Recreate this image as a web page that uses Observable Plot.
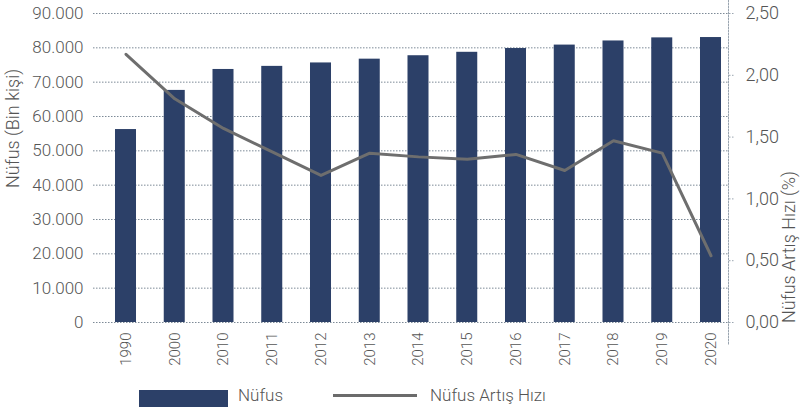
<!DOCTYPE html>
<html>
<head>
<meta charset="utf-8">
<script src="https://cdn.jsdelivr.net/npm/d3@7"></script>
<script src="https://cdn.jsdelivr.net/npm/@observablehq/plot@0.6"></script>
<style>
  body { margin: 0; background: #fff; }
  #chart svg { display: block; }
  .legend { position: relative; width: 810px; height: 37px; font-family: Roboto, sans-serif; font-size: 17px; color: #555; font-weight: 300; }
  .legend .sw { position: absolute; }
  .legend .lbl { position: absolute; top: 5px; line-height: 20px; }
</style>
</head>
<body>
<div id="chart"></div>
<div class="legend">
  <div class="sw" style="left:139px;top:10px;width:89px;height:17px;background:#2c4068"></div>
  <div class="lbl" style="left:238px">Nüfus</div>
  <div class="sw" style="left:333px;top:14px;width:84px;height:3px;background:#6b6b6b"></div>
  <div class="lbl" style="left:430px">Nüfus Artış Hızı</div>
</div>
<script>
const years = ["1990","2000","2010","2011","2012","2013","2014","2015","2016","2017","2018","2019","2020"];
const population = [56200, 67600, 73700, 74600, 75600, 76700, 77700, 78700, 79800, 80800, 82000, 82900, 83000];
const growthRate = [2.17, 1.81, 1.57, 1.38, 1.19, 1.37, 1.34, 1.32, 1.36, 1.23, 1.47, 1.37, 0.54];
const leftTicks = [0, 10000, 20000, 30000, 40000, 50000, 60000, 70000, 80000, 90000];
const rightTicks = [0, 0.5, 1, 1.5, 2, 2.5];
const leftMax = 90000;
const rightMax = 2.5;

const ratio = leftMax / rightMax;
const data = years.map((y, i) => ({year: y, pop: population[i], rate: growthRate[i] * ratio}));

const fmtLeft = d => d === 0 ? "0" : d3.format(",")(d).replace(/,/g, ".");
const fmtRight = d => (d / ratio).toFixed(2).replace(".", ",");

const chart = Plot.plot({
  width: 810,
  height: 380,
  marginLeft: 93,
  marginRight: 82,
  marginTop: 13,
  marginBottom: 58,
  style: {fontFamily: "Roboto, sans-serif", fontWeight: 300, color: "#555", background: "#fff"},
  x: {type: "band", domain: years, range: [101.125, 734.875], paddingInner: 0.569, paddingOuter: 0.2845, align: 0.5, round: false},
  y: {domain: [0, leftMax]},
  marks: [
    Plot.gridY(leftTicks, {stroke: "#7d8a97", strokeOpacity: 1, strokeDasharray: "1.5,1.5"}),
    Plot.barY(data, {x: "year", y: "pop", fill: "#2c4068"}),
    Plot.lineY(data, {x: "year", y: "rate", stroke: "#6e6e6e", strokeWidth: 3}),
    Plot.axisY(leftTicks, {anchor: "left", tickSize: 0, tickPadding: 10, tickFormat: fmtLeft, fontSize: 17, label: null, fill: "#555"}),
    Plot.axisY(rightTicks.map(r => r * ratio), {anchor: "right", tickSize: 5, tickPadding: 12, tickFormat: fmtRight, fontSize: 18, label: null, stroke: "#9aa5b0", strokeDasharray: "1.5,1.5", fill: "#555"}),
    Plot.frame({anchor: "right", stroke: "#9aa5b0", strokeDasharray: "1.5,1.5", insetTop: -13, insetBottom: -22}),
    Plot.axisX({tickSize: 0, tickPadding: 10, tickRotate: -90, fontSize: 15, label: null, fill: "#555"}),
    Plot.text(["Nüfus (Bin kişi)"], {frameAnchor: "left", dx: -80, dy: 20, rotate: -90, fontSize: 18, fill: "#555"}),
    Plot.text(["Nüfus Artış Hızı (%)"], {frameAnchor: "right", dx: 61, dy: 3, rotate: -90, fontSize: 18, fill: "#555"})
  ]
});
document.getElementById("chart").appendChild(chart);
</script>
</body>
</html>
